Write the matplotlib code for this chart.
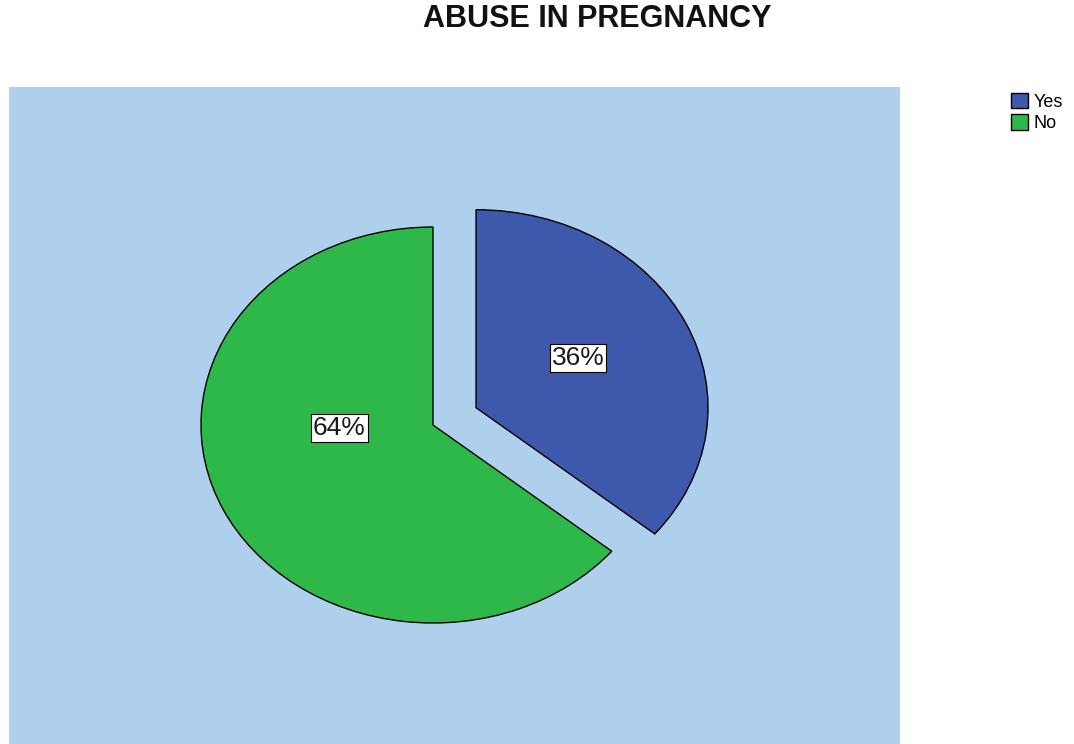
import matplotlib
matplotlib.use("Agg")
import matplotlib.pyplot as plt

# abuse during pregnancy, share of respondents
categories = ["Yes", "No"]
shares = [36, 64]
colors = ["#3e58ab", "#2eb84a"]
explode = [0.205, 0.0]

plt.rcParams['font.family'] = ['Liberation Sans', 'DejaVu Sans']

W, H = 1074, 744
fig = plt.figure(figsize=(W / 100, H / 100), dpi=100)

# plot panel in pixel terms: x 9..900, y 87..744 (top-down)
ax = fig.add_axes([9 / W, 0, 891 / W, 657 / H])
ax.set_facecolor("#aed0ed")

wedges, texts, autotexts = ax.pie(
    shares, colors=colors, explode=explode, startangle=90, counterclock=False,
    autopct=lambda p: f"{p:.0f}%", frame=True,
    wedgeprops=dict(edgecolor="black", linewidth=1.0),
    textprops=dict(fontsize=19, color="#1a1a1a"),
)

# stretch the pie into an ellipse: rx = 232 px, ry = 198 px, centre at (433, 425)
rx, ry = 232, 198
cx, cy = 433 - 9, 425 - 87
ax.set_aspect("auto")
ax.set_xlim(-cx / rx, (891 - cx) / rx)
ax.set_ylim(-(657 - cy) / ry, cy / ry)
ax.set_xticks([])
ax.set_yticks([])
for s in ax.spines.values():
    s.set_visible(False)

# percentage boxes
label_pos = [(0.625, 0.338), (-0.405, -0.015)]
for t, pos in zip(autotexts, label_pos):
    t.set_position(pos)
    t.set_bbox(dict(boxstyle="square,pad=0.08", facecolor="white",
                    edgecolor="black", linewidth=0.8))

fig.text(597 / W, 1 - 19 / H, "ABUSE IN PREGNANCY", ha="center", va="center",
         fontsize=22, fontweight="bold", color="#111111")

fig.legend(wedges, categories, loc="upper left", bbox_to_anchor=(998 / W, 1 - 80 / H),
           frameon=False, fontsize=13, handlelength=0.95, handleheight=0.95,
           handletextpad=0.3, labelspacing=0.2, borderpad=0.2)

fig.savefig("out.png", dpi=100)
